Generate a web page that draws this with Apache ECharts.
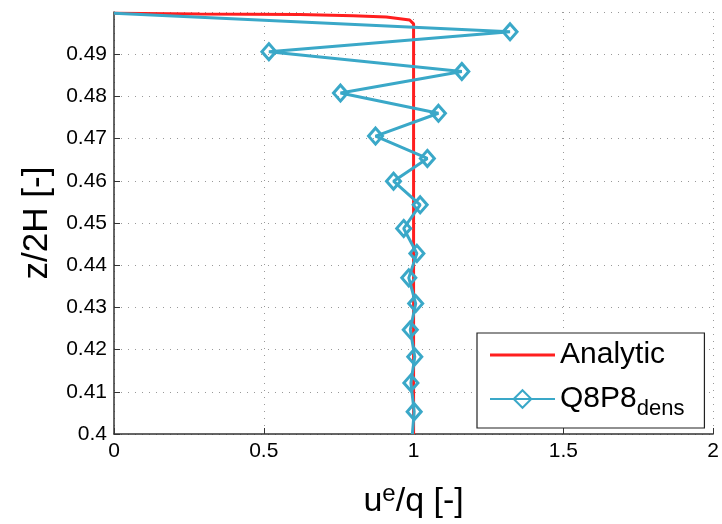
<!DOCTYPE html>
<html><head><meta charset="utf-8">
<script src="https://cdn.jsdelivr.net/npm/echarts@6/dist/echarts.min.js"></script>
<style>html,body{margin:0;padding:0;background:#fff}#c{width:722px;height:524px}</style>
</head><body><div id="c"></div>
<script>
const xTicks = [0, 0.5, 1, 1.5, 2];
const yTicks = [0.4, 0.41, 0.42, 0.43, 0.44, 0.45, 0.46, 0.47, 0.48, 0.49, 0.5];
const analyticU = [0, 0.287, 0.62, 0.798, 0.909, 0.987, 1.0, 1.0];
const analyticZ = [0.4997, 0.4995, 0.4994, 0.4991, 0.4988, 0.4981, 0.4972, 0.4];
const q8p8U = [0, 1.322, 0.517, 1.161, 0.756, 1.083, 0.873, 1.046, 0.933, 1.022, 0.967, 1.011, 0.984, 1.007, 0.989, 1.004, 0.991, 1.002, 0.996];
const q8p8Z = [0.4997, 0.4953, 0.4906, 0.4859, 0.4808, 0.4760, 0.4706, 0.4653, 0.4599, 0.4543, 0.4487, 0.4428, 0.4370, 0.4309, 0.4247, 0.4183, 0.4121, 0.4053, 0.4];

const RED = '#ff1f1f', BLUE = '#3aa8c8';
const FONT = 'Liberation Sans';
const chart = echarts.init(document.getElementById('c'), null, {renderer: 'canvas'});
const blueData = q8p8U.map((u, i) => {
  const d = {value: [u, q8p8Z[i]]};
  if (i === 0 || i === q8p8U.length - 1) d.symbol = 'none';
  return d;
});
chart.setOption({
  animation: false,
  backgroundColor: '#fff',
  textStyle: {fontFamily: FONT},
  grid: {left: 114, right: 8, top: 12, bottom: 87, containLabel: false},
  xAxis: {
    type: 'value', min: xTicks[0], max: xTicks[xTicks.length - 1], interval: 0.5,
    name: 'u{sup|e}/q [-]', nameLocation: 'middle', nameGap: 48,
    nameTextStyle: {fontSize: 34, color: '#000', fontFamily: FONT,
      rich: {sup: {fontSize: 24, verticalAlign: 'top', padding: [0, 0, 16, 0], color: '#000', fontFamily: FONT}}},
    axisLine: {show: true, onZero: false, lineStyle: {color: '#333', width: 1.5}},
    axisTick: {show: true, inside: true, length: 6, lineStyle: {color: '#333'}},
    axisLabel: {fontSize: 21, color: '#000', margin: 7, formatter: v => String(+v.toFixed(2))},
    splitLine: {show: true, lineStyle: {color: '#999', type: [1, 6], width: 1}}
  },
  yAxis: {
    type: 'value', min: yTicks[0], max: yTicks[yTicks.length - 1], interval: 0.01,
    name: 'z/2H [-]', nameLocation: 'middle', nameGap: 58,
    nameTextStyle: {fontSize: 35, color: '#000', fontFamily: FONT},
    axisLine: {show: true, onZero: false, lineStyle: {color: '#333', width: 1.5}},
    axisTick: {show: true, inside: true, length: 6, lineStyle: {color: '#333'}},
    axisLabel: {fontSize: 21, color: '#000', margin: 7, showMaxLabel: false,
      formatter: v => String(+v.toFixed(2))},
    splitLine: {show: true, lineStyle: {color: '#999', type: [1, 6], width: 1}}
  },
  legend: {
    orient: 'vertical', left: 477, top: 333,
    backgroundColor: '#fff', borderColor: '#222', borderWidth: 1.2,
    padding: [7, 20, 8, 12], itemGap: 14, itemWidth: 65, itemHeight: 22,
    data: [{name: 'Analytic', icon: 'path://M0,0L65,0L65,3L0,3Z'}, 'Q8P8'],
    formatter: n => n === 'Q8P8' ? '{m|Q8P8}{s|dens}' : '{m|Analytic}',
    textStyle: {fontFamily: FONT, color: '#000',
      rich: {m: {fontSize: 30, lineHeight: 34, color: '#000', fontFamily: FONT},
             s: {fontSize: 22, lineHeight: 42, color: '#000', fontFamily: FONT, verticalAlign: 'bottom'}}}
  },
  series: [
    {name: 'Analytic', type: 'line', data: analyticU.map((u, i) => [u, analyticZ[i]]),
     showSymbol: false, symbol: 'none', smooth: false, clip: true,
     lineStyle: {color: RED, width: 3}, itemStyle: {color: RED}, z: 2},
    {name: 'Q8P8', type: 'line', data: blueData,
     symbol: 'diamond', symbolSize: [14, 16], showSymbol: true, showAllSymbol: true, clip: true,
     lineStyle: {color: BLUE, width: 3},
     itemStyle: {color: 'rgba(255,255,255,0)', borderColor: BLUE, borderWidth: 3}, z: 3}
  ]
});
</script></body></html>
